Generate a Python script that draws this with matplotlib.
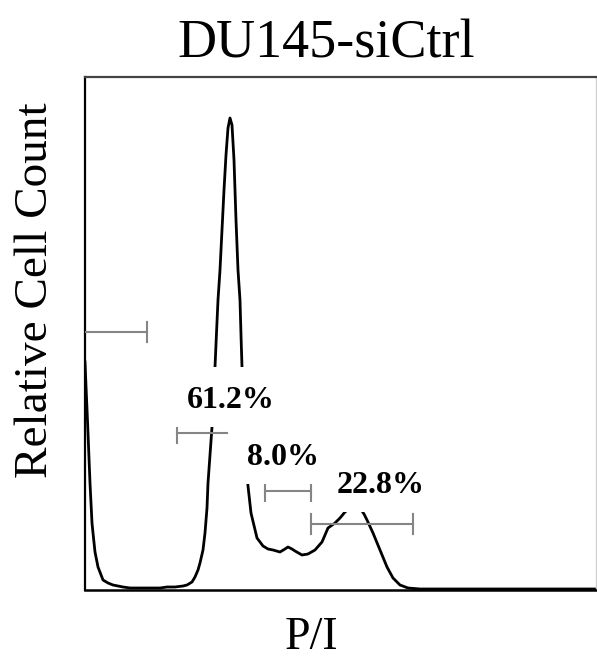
import matplotlib

matplotlib.use("Agg")
import matplotlib.pyplot as plt
from matplotlib.patches import Rectangle

# DNA content histogram (channel 0-1023, arbitrary counts)
channel = [0, 2, 4, 6, 10, 14, 16, 20, 26, 36, 46, 56, 66, 76, 90, 110, 130, 150, 164, 180,
           196, 204, 214, 220, 226, 230, 236, 240, 244, 246, 250, 254, 257, 260, 263, 266,
           270, 274, 278, 282, 286, 290, 294, 298, 302, 306, 310, 312, 314, 317, 320, 323,
           326, 332, 344, 356, 366, 376, 390, 400, 406, 414, 420, 434, 446, 460, 474, 486,
           500, 510, 520, 530, 540, 550, 558, 564, 576, 590, 604, 616, 630, 646, 670, 730,
           830, 930, 1022]
count = [228, 204, 181, 157, 107, 67, 57, 38, 23, 10, 7, 5, 4, 3, 2, 2, 2, 2, 3, 3,
         4, 5, 8, 13, 20, 27, 40, 57, 82, 107, 135, 163, 193, 223, 257, 290,
         320, 360, 400, 435, 462, 472, 465, 430, 370, 320, 290, 255, 223, 190, 150, 120,
         104, 77, 52, 44, 41, 40, 38, 41, 43, 41, 39, 35, 36, 40, 48, 62,
         67, 72, 78, 82, 84, 82, 76, 70, 57, 40, 23, 12, 5, 2, 1, 1,
         1, 1, 1]

# gates: start channel, end channel, level, which end caps are drawn
gate_start = [0, 184, 360, 452]
gate_end = [124, 284, 452, 656]
gate_level = [258, 157, 99, 66]
gate_caps = [(False, True), (True, False), (True, True), (True, True)]

gate_labels = ["61.2%", "8.0%", "22.8%"]
label_x = [292, 396, 592]
label_y = [182, 125, 97]
label_box_w = [250, 218, 250]

W, H = 597, 658
fig = plt.figure(figsize=(W / 100, H / 100), dpi=100)
ax = fig.add_axes([85 / W, 1 - 590 / H, 511 / W, 513 / H])

ax.plot(channel, count, color="black", lw=2.0, zorder=2, solid_joinstyle="round")

cap = 10
for x0, x1, lev, (c0, c1) in zip(gate_start, gate_end, gate_level, gate_caps):
    ax.plot([x0, x1], [lev, lev], color="#858585", lw=1.5, zorder=3)
    if c0:
        ax.plot([x0, x0], [lev - cap, lev + cap], color="#858585", lw=1.5, zorder=3)
    if c1:
        ax.plot([x1, x1], [lev - cap, lev + cap], color="#858585", lw=1.5, zorder=3)

# white label backgrounds that blank out the trace behind the percentages
for txt, x, y, bw in zip(gate_labels, label_x, label_y, label_box_w):
    ax.add_patch(Rectangle((x - bw / 2, y - 19), bw, 60, facecolor="white",
                           edgecolor="none", zorder=3.5))
    ax.text(x, y, txt, ha="center", va="baseline", fontsize=23, fontweight="bold",
            family="Liberation Serif", zorder=4)

ax.set_xlim(0, 1022)
ax.set_ylim(0, 513)
ax.set_xticks([])
ax.set_yticks([])
ax.spines["left"].set_linewidth(1.6)
ax.spines["bottom"].set_linewidth(1.8)
ax.spines["top"].set_color("#444444")
ax.spines["top"].set_linewidth(1.6)
ax.spines["right"].set_color("#d0d0d0")
ax.spines["right"].set_linewidth(1.0)

fig.text(326 / W, 1 - 57 / H, "DU145-siCtrl", ha="center", va="baseline",
         fontsize=39, family="Liberation Serif")
fig.text(36 / W, 1 - 290 / H, "Relative Cell Count", ha="center", va="center",
         rotation=90, fontsize=34, family="Liberation Serif")
fig.text(311 / W, 1 - 649 / H, "P/I", ha="center", va="baseline",
         fontsize=33, family="Liberation Serif")

fig.savefig("out.png", dpi=100)
